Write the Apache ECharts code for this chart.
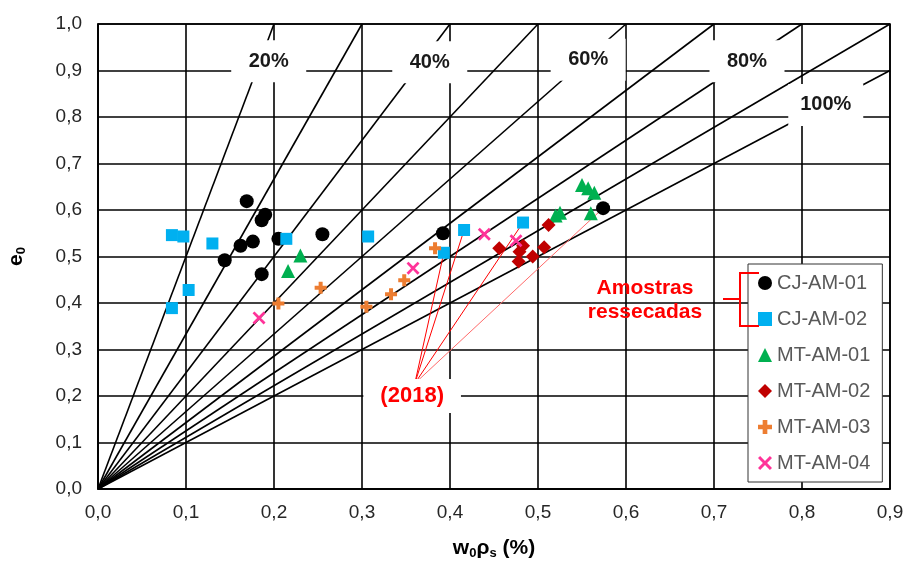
<!DOCTYPE html>
<html>
<head>
<meta charset="utf-8">
<script src="https://cdn.jsdelivr.net/npm/echarts@6/dist/echarts.min.js"></script>
<style>
  html, body { margin: 0; padding: 0; background: #fff; }
  #chart { width: 908px; height: 562px; }
</style>
</head>
<body>
<div id="chart"></div>
<script>
// Degree of saturation lines (%), drawn from the origin: e0 = w0·ρs / S
const saturations = [20, 30, 40, 50, 60, 70, 80, 90, 100];
const labelledSaturations = [20, 40, 60, 80, 100];
const satLabelAnchors = [[0.194, 0.920], [0.377, 0.918], [0.557, 0.923], [0.7375, 0.920], [0.827, 0.826]];

// Samples: [w0ρs, e0]
const cjAm01 = [[0.169, 0.619], [0.186, 0.578], [0.190, 0.590], [0.176, 0.532], [0.162, 0.523],
                [0.144, 0.492], [0.186, 0.462], [0.205, 0.538], [0.255, 0.548], [0.392, 0.550],
                [0.574, 0.604]];
const cjAm02 = [[0.084, 0.546], [0.097, 0.543], [0.130, 0.528], [0.103, 0.428], [0.084, 0.389],
                [0.214, 0.538], [0.307, 0.543], [0.393, 0.508], [0.416, 0.557], [0.483, 0.573]];
const mtAm01 = [[0.230, 0.502], [0.216, 0.469], [0.550, 0.654], [0.557, 0.647], [0.564, 0.637],
                [0.560, 0.593], [0.520, 0.588], [0.525, 0.594]];
const mtAm02 = [[0.456, 0.518], [0.512, 0.568], [0.507, 0.520], [0.494, 0.500], [0.483, 0.523],
                [0.479, 0.510], [0.478, 0.489]];
const mtAm03 = [[0.205, 0.399], [0.253, 0.433], [0.305, 0.392], [0.333, 0.419], [0.348, 0.449],
                [0.383, 0.518]];
const mtAm04 = [[0.183, 0.368], [0.358, 0.475], [0.439, 0.548], [0.475, 0.534]];

// Callout "(2018)": anchor of the leader lines and the box centre
const note2018Anchor = [0.360, 0.227];
const note2018Centre = [0.357, 0.200];
const note2018Targets = [cjAm02[7], cjAm02[8], cjAm02[9], cjAm01[10]];

const X_MAX = 0.9, Y_MAX = 1.0;
const FONT = 'Arial, "Liberation Sans", sans-serif';
const fmt = v => v.toFixed(1).replace('.', ',');

// End point of a saturation line inside the plot frame
function satEnd(s) {
  const k = 100 / s;
  return k * X_MAX <= Y_MAX ? [X_MAX, X_MAX * k] : [Y_MAX / k, Y_MAX];
}

const PLUS = 'path://M-1,-3H1V-1H3V1H1V3H-1V1H-3V-1H-1Z';
const CROSS = 'path://M0,1.5L1.5,0L5,3.5L8.5,0L10,1.5L6.5,5L10,8.5L8.5,10L5,6.5L1.5,10L0,8.5L3.5,5Z';

const satSeries = saturations.map(s => ({
  type: 'line', silent: true, z: 2, symbol: 'none',
  lineStyle: { color: '#000', width: 1.6 },
  data: [[0, 0], satEnd(s)]
}));

// Text boxes that sit on the lines; the 1px white dot under each is hidden by its box
const satLabelSeries = {
  type: 'scatter', silent: true, z: 3, symbolSize: 1,
  itemStyle: { color: '#fff', opacity: 1 },
  emphasis: { disabled: true },
  label: {
    show: true, position: 'inside', opacity: 1,
    formatter: p => p.name,
    fontFamily: FONT, fontWeight: 'bold', fontSize: 20, color: '#1a1a1a',
    backgroundColor: '#ffffff', padding: [11, 14], lineHeight: 20, width: 47, align: 'center'
  },
  data: labelledSaturations.map((s, i) => ({ name: s + '%', value: satLabelAnchors[i] }))
};

const leaderSeries = {
  type: 'lines', coordinateSystem: 'cartesian2d', silent: true, z: 4,
  polyline: false,
  data: note2018Targets.map((t, i) => ({
    coords: [note2018Anchor, t],
    lineStyle: { color: i === 3 ? '#ff6a6a' : '#ff0000', width: 1, opacity: 1 }
  }))
};

const noteSeries = {
  type: 'scatter', silent: true, z: 6, symbolSize: 1,
  itemStyle: { color: '#fff', opacity: 1 },
  emphasis: { disabled: true },
  label: {
    show: true, position: 'inside', formatter: '(2018)', opacity: 1,
    fontFamily: FONT, fontWeight: 'bold', fontSize: 22, color: '#ff0000',
    backgroundColor: '#ffffff', padding: [6, 17], lineHeight: 22
  },
  data: [note2018Centre]
};

function sampleSeries(name, data, symbol, size, color) {
  return {
    name, type: 'scatter', z: 5, data, symbol, symbolSize: size,
    itemStyle: { color, opacity: 1 }
  };
}

const samples = [
  sampleSeries('CJ-AM-01', cjAm01, 'circle', 14, '#000000'),
  sampleSeries('CJ-AM-02', cjAm02, 'rect', 12, '#00b0f0'),
  sampleSeries('MT-AM-01', mtAm01, 'triangle', 14, '#00b050'),
  sampleSeries('MT-AM-02', mtAm02, 'diamond', 14, '#c00000'),
  sampleSeries('MT-AM-03', mtAm03, PLUS, 12, '#ed7d31'),
  sampleSeries('MT-AM-04', mtAm04, CROSS, 13, '#ff3399')
];

const chart = echarts.init(document.getElementById('chart'), null, { renderer: 'canvas' });
chart.setOption({
  animation: false,
  backgroundColor: '#fff',
  grid: {
    left: 98, right: 18, top: 24, bottom: 73, outerBoundsMode: 'none',
    show: true, borderColor: '#000', borderWidth: 1.6
  },
  xAxis: {
    type: 'value', min: 0, max: X_MAX, interval: 0.1,
    axisLine: { show: true, lineStyle: { color: '#000', width: 1.6 } },
    axisTick: { show: false },
    splitLine: { show: true, lineStyle: { color: '#000', width: 1.6 } },
    axisLabel: { formatter: fmt, fontFamily: FONT, fontSize: 19, color: '#262626', margin: 14 },
    name: 'w{s|0}ρ{s|s} (%)', nameLocation: 'middle', nameGap: 48,
    nameTextStyle: {
      fontFamily: FONT, fontWeight: 'bold', fontSize: 21, color: '#000',
      rich: { s: { fontFamily: FONT, fontWeight: 'bold', fontSize: 13, color: '#000', padding: [10, 0, 0, 0] } }
    }
  },
  yAxis: {
    type: 'value', min: 0, max: Y_MAX, interval: 0.1,
    axisLine: { show: true, lineStyle: { color: '#000', width: 1.6 } },
    axisTick: { show: false },
    splitLine: { show: true, lineStyle: { color: '#000', width: 1.6 } },
    axisLabel: { formatter: fmt, fontFamily: FONT, fontSize: 19, color: '#262626', margin: 16 },
    name: 'e{s|0}', nameLocation: 'middle', nameGap: 70, nameRotate: 90,
    nameTextStyle: {
      fontFamily: FONT, fontWeight: 'bold', fontSize: 21, color: '#000',
      rich: { s: { fontFamily: FONT, fontWeight: 'bold', fontSize: 13, color: '#000', padding: [10, 0, 0, 0] } }
    }
  },
  legend: {
    orient: 'vertical', left: 748, top: 264,
    data: samples.map(s => s.name),
    backgroundColor: '#fff', borderColor: '#333', borderWidth: 1,
    padding: [9, 12, 9, 10], itemGap: 16, itemWidth: 14, itemHeight: 14, itemTextGap: 4,
    textStyle: { fontFamily: FONT, fontSize: 20, color: '#595959' },
    selectedMode: false
  },
  graphic: [
    {
      type: 'text', x: 645, y: 276, z: 10, silent: true,
      style: {
        text: 'Amostras\nressecadas', fontFamily: FONT, fontWeight: 'bold', fontSize: 21,
        lineHeight: 24, fill: '#ff0000', align: 'center', verticalAlign: 'top'
      }
    },
    {
      type: 'polyline', z: 10, silent: true,
      shape: { points: [[759, 273], [740, 273], [740, 326], [759, 326]] },
      style: { stroke: '#ff0000', lineWidth: 2, fill: null }
    },
    {
      type: 'line', z: 10, silent: true,
      shape: { x1: 723, y1: 299, x2: 740, y2: 299 },
      style: { stroke: '#ff0000', lineWidth: 2 }
    }
  ],
  series: [...satSeries, satLabelSeries, leaderSeries, noteSeries, ...samples]
});
</script>
</body>
</html>
